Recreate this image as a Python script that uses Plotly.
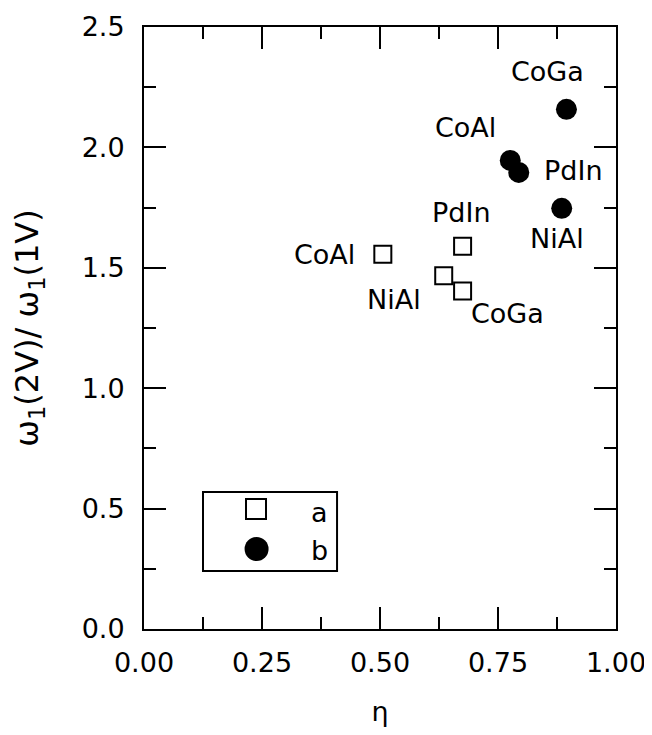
import plotly.graph_objects as go

# Data
names_a = ["CoAl", "PdIn", "NiAl", "CoGa"]
eta_a = [0.506, 0.675, 0.635, 0.675]
ratio_a = [1.556, 1.590, 1.467, 1.404]

names_b = ["CoGa", "CoAl", "PdIn", "NiAl"]
eta_b = [0.895, 0.776, 0.794, 0.885]
ratio_b = [2.158, 1.946, 1.896, 1.747]

# label offsets (pixels) relative to each point: (dx, dy up)
offs_a = {"CoAl": (-58, 0), "PdIn": (-1, 34), "NiAl": (-50, -24), "CoGa": (45, -23)}
offs_b = {"CoGa": (-19, 38), "CoAl": (-45, 33), "PdIn": (55, 2), "NiAl": (-5, -30)}

x_ticks = [0, 0.25, 0.5, 0.75, 1.0]
y_ticks = [0, 0.5, 1.0, 1.5, 2.0, 2.5]

FONT = "DejaVu Sans"
FS = 27

fig = go.Figure()
fig.add_trace(go.Scatter(
    x=eta_a, y=ratio_a, mode="markers", name="a",
    marker=dict(symbol="square-open", size=17, color="black",
                line=dict(color="black", width=2)),
))
fig.add_trace(go.Scatter(
    x=eta_b, y=ratio_b, mode="markers", name="b",
    marker=dict(symbol="circle", size=21, color="black", line=dict(width=0)),
))

annotations = []
for n, x, y in zip(names_a, eta_a, ratio_a):
    dx, dy = offs_a[n]
    annotations.append(dict(x=x, y=y, xref="x", yref="y", text=n, showarrow=False,
                            xanchor="center", yanchor="middle",
                            xshift=dx, yshift=dy, font=dict(family=FONT, size=FS, color="black")))
for n, x, y in zip(names_b, eta_b, ratio_b):
    dx, dy = offs_b[n]
    annotations.append(dict(x=x, y=y, xref="x", yref="y", text=n, showarrow=False,
                            xanchor="center", yanchor="middle",
                            xshift=dx, yshift=dy, font=dict(family=FONT, size=FS, color="black")))

# manual legend
annotations.append(dict(x=0.371, y=0.193, xref="paper", yref="paper", text="a", showarrow=False,
                        xanchor="center", yanchor="middle",
                        font=dict(family=FONT, size=FS, color="black")))
annotations.append(dict(x=0.371, y=0.131, xref="paper", yref="paper", text="b", showarrow=False,
                        xanchor="center", yanchor="middle",
                        font=dict(family=FONT, size=FS, color="black")))

shapes = [
    dict(type="rect", xref="paper", yref="paper", x0=0.125, x1=0.409, y0=0.0963, y1=0.2276,
         line=dict(color="black", width=2), fillcolor="rgba(0,0,0,0)"),
    dict(type="rect", xref="paper", yref="paper", xsizemode="pixel", ysizemode="pixel",
         xanchor=0.2373, yanchor=0.1993, x0=-10, x1=10, y0=-10, y1=10,
         line=dict(color="black", width=2)),
    dict(type="circle", xref="paper", yref="paper", xsizemode="pixel", ysizemode="pixel",
         xanchor=0.2385, yanchor=0.1329, x0=-12, x1=12, y0=-12, y1=12,
         line=dict(width=0), fillcolor="black"),
]

axis_common = dict(
    showline=True, linecolor="black", linewidth=2, mirror="ticks",
    ticks="inside", ticklen=22, tickwidth=2, tickcolor="black",
    showgrid=False, zeroline=False, automargin=False, ticklabeloverflow="allow",
    tickfont=dict(family=FONT, size=FS, color="black"),
)

fig.update_layout(
    template="none",
    width=644, height=719,
    margin=dict(l=136, r=36, t=19, b=98, pad=0),
    paper_bgcolor="white", plot_bgcolor="white",
    showlegend=False,
    annotations=annotations, shapes=shapes,
    xaxis=dict(range=[0, 1], tickvals=x_ticks, tickformat=".2f", ticklabelstandoff=9,
               minor=dict(ticks="inside", ticklen=12, tickwidth=2, tickcolor="black", dtick=0.125),
               title=dict(text="η", font=dict(family=FONT, size=FS, color="black"), standoff=42),
               **axis_common),
    yaxis=dict(range=[0, 2.5], tickvals=y_ticks, tickformat=".1f", ticklabelstandoff=12,
               minor=dict(ticks="inside", ticklen=12, tickwidth=2, tickcolor="black", dtick=0.25),
               title=dict(text="ω<sub>1</sub>(2V)/ ω<sub>1</sub>(1V)",
                          font=dict(family=FONT, size=32, color="black"), standoff=34),
               **axis_common),
)

fig.write_html("out.html")
